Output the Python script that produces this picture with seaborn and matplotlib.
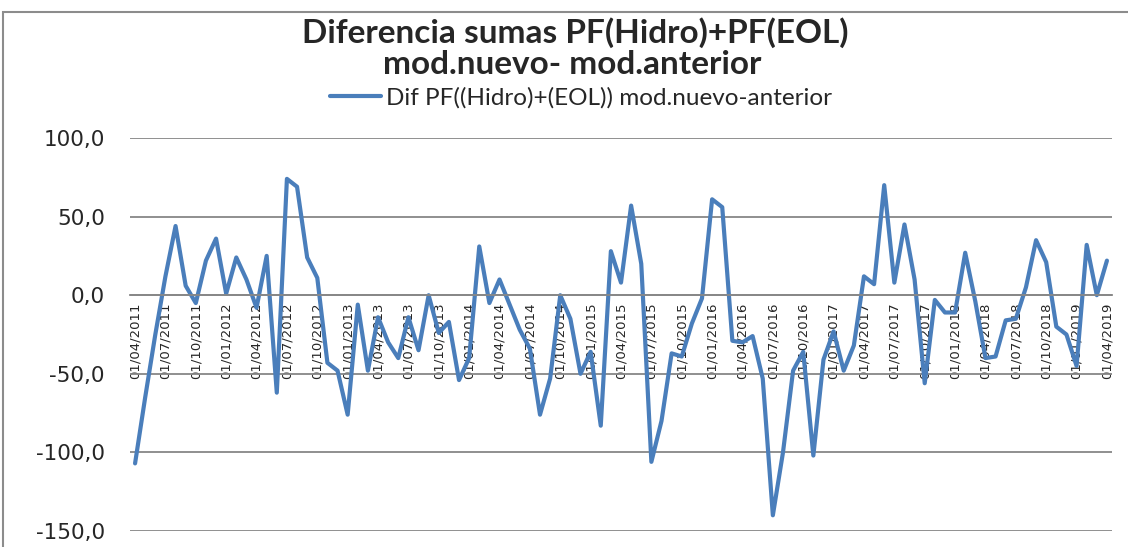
import numpy as np
import pandas as pd
import matplotlib
matplotlib.use('Agg')
import matplotlib.pyplot as plt
import matplotlib.patches as patches
import seaborn as sns

# monthly values, 01/04/2011 .. 01/04/2019
fechas = pd.date_range('2011-04-01', '2019-04-01', freq='MS')
dif = [-107, -65, -25, 12, 44, 6, -5, 22, 36, 1, 24, 10,
       -8, 25, -62, 74, 69, 24, 11, -43, -48, -76, -6, -48,
       -14, -30, -40, -14, -35, 0, -24, -17, -54, -40, 31, -5,
       10, -6, -22, -34, -76, -53, 0, -15, -50, -36, -83, 28,
       8, 57, 20, -106, -80, -37, -39, -18, -2, 61, 56, -29,
       -30, -26, -53, -140, -100, -48, -36, -102, -41, -23, -48, -32,
       12, 7, 70, 8, 45, 10, -56, -3, -11, -11, 27, -4,
       -40, -39, -16, -15, 5, 35, 21, -20, -25, -45, 32, 0,
       22]
etiquetas = [f.strftime('%d/%m/%Y') for f in fechas]
yticks = [100, 50, 0, -50, -100, -150]

df = pd.DataFrame({'pos': np.arange(len(dif)), 'dif': dif})

sns.set_style('white')
plt.rcParams['font.family'] = ['DejaVu Sans']

W, H = 1128, 547
fig = plt.figure(figsize=(W / 100, H / 100), dpi=100)
ax = fig.add_axes([130 / W, 1 - 531 / H, (1112 - 130) / W, (531 - 138) / H])

gris = '#878787'
azul = '#4a7ebb'

sns.lineplot(data=df, x='pos', y='dif', ax=ax, color=azul, linewidth=3.0,
             label='Dif PF((Hidro)+(EOL)) mod.nuevo-anterior')

ax.set_xlim(-0.5, len(dif) - 0.5)
ax.set_ylim(-150, 100)
ax.yaxis.grid(True, color=gris, linewidth=1.3)
ax.set_axisbelow(True)

# tick styling first, labels afterwards (tick_params can rebuild ticks)
pos_lab = list(range(0, len(dif), 3))
ax.set_xticks(pos_lab)
ax.set_xticks([i - 0.5 for i in pos_lab], minor=True)
ax.tick_params(axis='y', length=0, pad=18, labelsize=15.5)
ax.tick_params(axis='x', which='major', length=0, pad=5,
               labelsize=9.5, labelrotation=90)
ax.tick_params(axis='x', which='minor', length=4, width=1.3,
               color=gris, direction='inout')

ax.set_yticks(yticks)
ax.set_yticklabels([f'{v:.1f}'.replace('.', ',') for v in yticks])
ax.set_xticklabels([etiquetas[i] for i in pos_lab], rotation=90,
                   ha='center', va='top')

for s in ['top', 'right', 'left']:
    ax.spines[s].set_visible(False)
ax.spines['bottom'].set_position(('data', 0))
ax.spines['bottom'].set_color(gris)
ax.spines['bottom'].set_linewidth(1.3)
ax.set_xlabel('')
ax.set_ylabel('')

ax.get_legend().remove()
h, l = ax.get_legend_handles_labels()
fig.legend(h, l, loc='center', bbox_to_anchor=(581 / W, 1 - 98 / H),
           frameon=False, handlelength=2.1, handletextpad=0.2,
           prop={'family': 'Lato', 'size': 17.5})

fig.text(575 / W, 1 - 33 / H, 'Diferencia sumas PF(Hidro)+PF(EOL)',
         ha='center', va='center', fontsize=24, fontweight='bold', family='Lato')
fig.text(572 / W, 1 - 64 / H, 'mod.nuevo- mod.anterior',
         ha='center', va='center', fontsize=24, fontweight='bold', family='Lato')

fig.patches.append(patches.Rectangle((3 / W, -0.1), 1.2, (H - 12) / H + 0.1,
                                     transform=fig.transFigure, fill=False,
                                     edgecolor='#8c8c8c', linewidth=1.5))

fig.savefig('out.png', dpi=100)
